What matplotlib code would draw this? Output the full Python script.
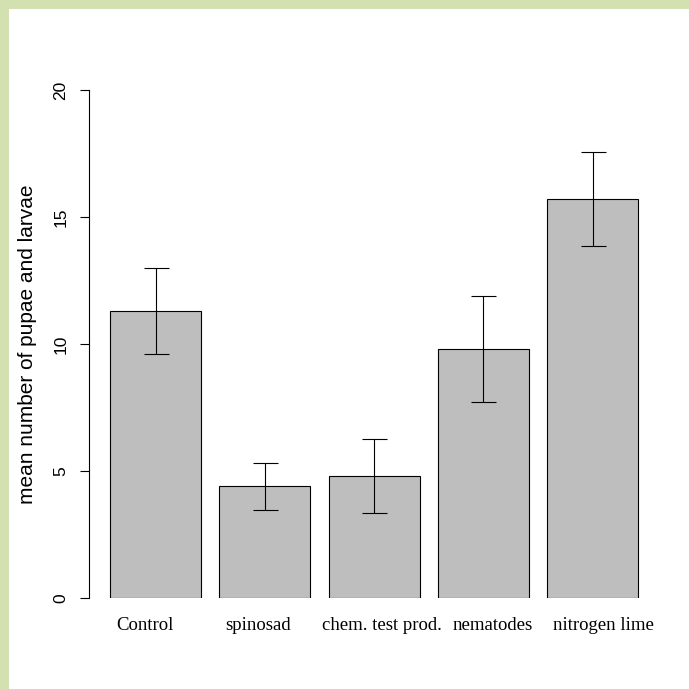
import matplotlib
matplotlib.use("Agg")
import matplotlib.pyplot as plt
import numpy as np

treatments = ["Control", "spinosad", "chem. test prod.", "nematodes", "nitrogen lime"]
means = [11.3, 4.4, 4.8, 9.8, 15.7]
upper = [13.0, 5.32, 6.26, 11.88, 17.55]
lower = [9.6, 3.46, 3.35, 7.7, 13.85]
yticks = [0, 5, 10, 15, 20]

# the names in the original sit a little off the bar centres (pixels)
name_shift = [-11, -7, 8, 9, 11]

W = 689
fig = plt.figure(figsize=(W / 100, W / 100), dpi=100)
fig.patch.set_facecolor("white")

# green frame on the left and top
fig.add_artist(plt.Rectangle((0, 0), 9 / W, 1, transform=fig.transFigure,
                             color="#d3e0b0", lw=0))
fig.add_artist(plt.Rectangle((0, 1 - 9 / W), 1, 9 / W, transform=fig.transFigure,
                             color="#d3e0b0", lw=0))

ax = fig.add_axes([89 / W, (W - 598) / W, (641 - 89) / W, (598 - 90) / W])
ax.set_facecolor("none")

x = 0.7 + 1.2 * np.arange(len(means))
ax.bar(x, means, width=1.0, color="#bebebe", edgecolor="black", linewidth=0.8)

m = np.array(means)
err = [m - np.array(lower), np.array(upper) - m]
ax.errorbar(x, means, yerr=err, fmt="none", ecolor="black", elinewidth=0.8,
            capsize=9, capthick=0.8, clip_on=False)

ax.set_xlim(-0.031, 6.03)
ax.set_ylim(0, 20)
for s in ["top", "right", "bottom"]:
    ax.spines[s].set_visible(False)
ax.spines["left"].set_linewidth(0.8)
ax.spines["left"].set_bounds(0, 20)

ax.set_yticks(yticks)
ax.set_yticklabels([str(v) for v in yticks], rotation=90, va="center",
                   family="Liberation Sans", fontsize=12.5)
ax.tick_params(axis="y", length=6.5, width=0.8, pad=8.3)

ax.set_xticks([])
for xi, name, dx in zip(x, treatments, name_shift):
    ax.annotate(name, (xi, 0), xycoords=("data", "axes fraction"),
                xytext=(dx, -32), textcoords="offset pixels",
                ha="center", va="baseline", family="Liberation Serif",
                fontsize=13.5, annotation_clip=False)

ax.set_ylabel("mean number of pupae and larvae", family="Liberation Sans",
              fontsize=15, labelpad=12)

fig.savefig("out.png", dpi=100)
